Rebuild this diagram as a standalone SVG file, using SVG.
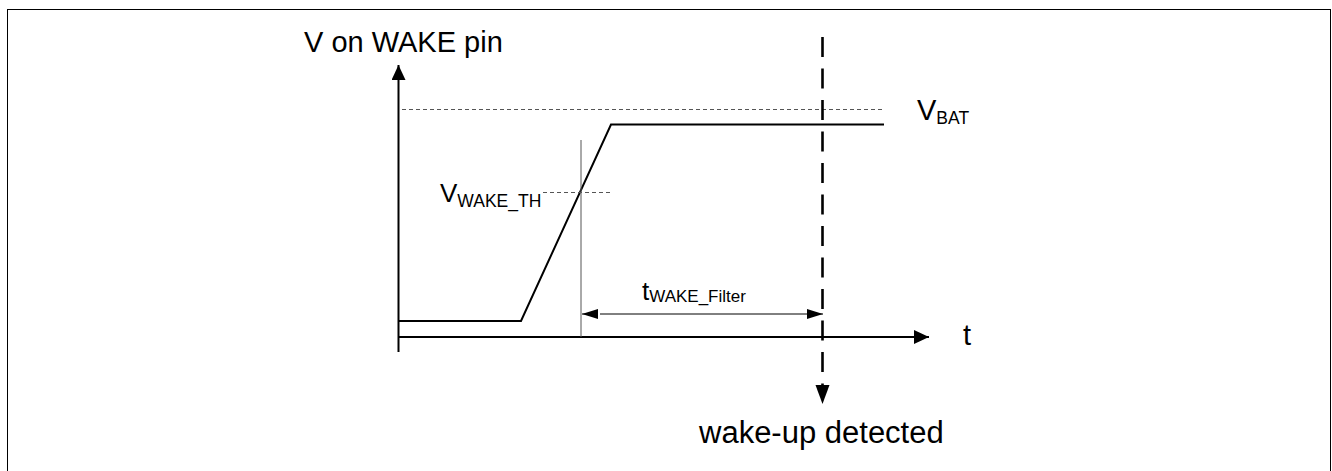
<svg xmlns="http://www.w3.org/2000/svg" width="1332" height="471" viewBox="0 0 1332 471">
<style>
text{font-family:"Liberation Sans",Arial,sans-serif;fill:#000}
.axis{stroke:#000;stroke-width:2;fill:none}
.sig{stroke:#000;stroke-width:2;fill:none}
.gdash{stroke:#555;stroke-width:1.2;stroke-dasharray:4 3;fill:none}
.thin{stroke:#555;stroke-width:1;fill:none}
.dim{stroke:#000;stroke-width:1;fill:none}
.big{font-size:29px}
.sub{font-size:17.5px}
</style>
<defs>
<marker id="ah" markerWidth="15" markerHeight="14" refX="15" refY="7" orient="auto" markerUnits="userSpaceOnUse">
<path d="M0,0 L15,7 L0,14 Z" fill="#000"/>
</marker>
<marker id="ad" markerWidth="16" markerHeight="10" refX="16" refY="5" orient="auto" markerUnits="userSpaceOnUse">
<path d="M0,0 L16,5 L0,10 Z" fill="#000"/>
</marker>
</defs>
<rect x="7.5" y="9.5" width="1323" height="470" fill="none" stroke="#000" stroke-width="1"/>
<g id="axes">
<line class="axis" x1="398.5" y1="352" x2="398.5" y2="65" marker-end="url(#ah)"/>
<line class="axis" x1="398.5" y1="337" x2="929" y2="337" marker-end="url(#ah)"/>
<text id="ylabel" class="big" x="304" y="52">V on WAKE pin</text>
<text id="xlabel" class="big" x="963" y="345">t</text>
</g>
<g id="vbat">
<line class="gdash" x1="402" y1="109.5" x2="884" y2="109.5"/>
<text x="917" y="120"><tspan class="big">V</tspan><tspan class="sub" font-size="19" dy="4">BAT</tspan></text>
</g>
<g id="signal">
<polyline class="sig" points="399,321 521,321 611,124.5 884,124.5"/>
</g>
<g id="threshold">
<line class="gdash" x1="543" y1="192.5" x2="612" y2="192.5"/>
<text x="440" y="202"><tspan style="font-size:26px">V</tspan><tspan class="sub" dy="5">WAKE_TH</tspan></text>
</g>
<g id="connectors">
<line class="thin" x1="581" y1="140" x2="581" y2="337"/>
<line class="dim" x1="597" y1="314" x2="582" y2="314" marker-end="url(#ad)"/>
<line class="dim" x1="600" y1="314" x2="823" y2="314" marker-end="url(#ad)"/>
<line stroke="#000" stroke-width="2.6" stroke-dasharray="20 11.5" x1="822.5" y1="37" x2="822.5" y2="386"/>
<polygon points="815.5,385 829.5,385 822.5,404" fill="#000"/>
</g>
<g id="filter">
<text x="642" y="300"><tspan style="font-size:26px">t</tspan><tspan style="font-size:17px" dy="2">WAKE_Filter</tspan></text>
</g>
<g id="wake">
<text x="699" y="443" style="font-size:31px">wake-up detected</text>
</g>
</svg>
